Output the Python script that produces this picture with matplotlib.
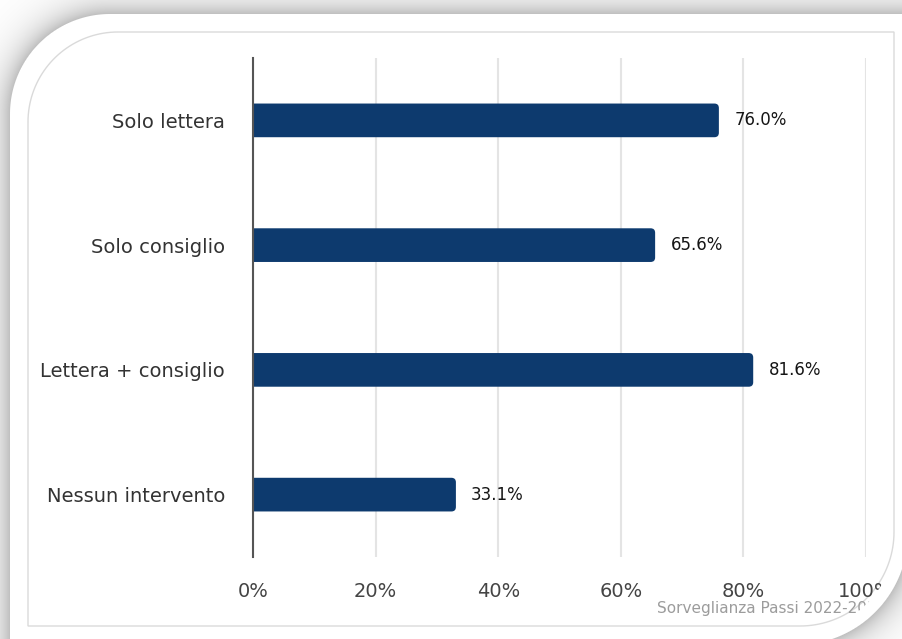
import numpy as np
import matplotlib
matplotlib.use("Agg")
import matplotlib.pyplot as plt
from matplotlib.patches import FancyBboxPatch, PathPatch
from matplotlib.path import Path

# ---- data -------------------------------------------------------------
categories = ["Solo lettera", "Solo consiglio", "Lettera + consiglio", "Nessun intervento"]
values = [76.0, 65.6, 81.6, 33.1]
x_ticks = [0, 20, 40, 60, 80, 100]
x_tick_labels = ["0%", "20%", "40%", "60%", "80%", "100%"]
source_note = "Sorveglianza Passi 2022-2023"

BAR_COLOR = "#0d3a6e"
W, H = 902, 639

plt.rcParams["font.family"] = ["DejaVu Sans"]

fig = plt.figure(figsize=(W / 100, H / 100), dpi=100)

# ---- card background with soft grey shadow ----------------------------
yy, xx = np.mgrid[0:H, 0:W].astype(float) + 0.5
d = np.maximum.reduce([10 - xx, 14 - yy, xx - 908, yy - 645])
tl = (xx < 110) & (yy < 114)
d[tl] = np.hypot(xx[tl] - 110, yy[tl] - 114) - 100
br = (xx > 796) & (yy > 533)
d[br] = np.hypot(xx[br] - 796, yy[br] - 533) - 112
shade = 255 - 64 * np.exp(-np.clip(d, 0, None) / 15)
alpha = np.clip(d + 0.5, 0, 1)
grey = (255 * (1 - alpha) + shade * alpha) / 255.0
img = np.dstack([grey, grey, grey])

bg = fig.add_axes([0, 0, 1, 1], zorder=0)
bg.imshow(img, extent=(0, W, H, 0), interpolation="bilinear", aspect="auto")
bg.set_xlim(0, W)
bg.set_ylim(H, 0)
bg.axis("off")


def rounded_frame(left, top, right, bottom, tl_r, br_r, n=40):
    """Rectangle with rounded top-left and bottom-right corners (pixel coords)."""
    pts = [(left + tl_r, top), (right, top), (right, bottom - br_r)]
    t = np.linspace(0, np.pi / 2, n)
    cx, cy = right - br_r, bottom - br_r
    pts += list(zip(cx + br_r * np.cos(t), cy + br_r * np.sin(t)))
    pts += [(left, bottom), (left, top + tl_r)]
    cx, cy = left + tl_r, top + tl_r
    t = np.linspace(np.pi, 1.5 * np.pi, n)
    pts += list(zip(cx + tl_r * np.cos(t), cy + tl_r * np.sin(t)))
    pts.append((left + tl_r, top))
    return Path(pts, closed=True)


inner = PathPatch(rounded_frame(28, 32, 894, 626, 90, 94), facecolor="none",
                  edgecolor="#dadada", lw=1.0)
bg.add_patch(inner)

bg.text(657, 608, source_note, ha="left", va="center", fontsize=11, color="#9c9c9c")

# ---- bar chart --------------------------------------------------------
ax_l, ax_r, ax_t, ax_b = 253, 866, 58, 557
ax = fig.add_axes([ax_l / W, 1 - ax_b / H, (ax_r - ax_l) / W, (ax_b - ax_t) / H], zorder=1)
ax.patch.set_alpha(0)

ypos = np.arange(len(categories))
bars = ax.barh(ypos, values, height=0.27, color=BAR_COLOR)
ax.set_xlim(0, 100)
ax.set_ylim(len(categories) - 0.5, -0.5)

# rounded bar ends
px_x = 100 / (ax_r - ax_l)
px_y = len(categories) / (ax_b - ax_t)
r = 4.5 * px_x
for b in bars:
    x0, y0, w, h = b.get_x(), b.get_y(), b.get_width(), b.get_height()
    b.remove()
    ax.add_patch(FancyBboxPatch((x0 - r, y0), w + r, h,
                                boxstyle=f"round,pad=0,rounding_size={r}",
                                mutation_aspect=px_y / px_x,
                                facecolor=BAR_COLOR, edgecolor="none", zorder=2))

for yi, v in zip(ypos, values):
    ax.annotate(f"{v:.1f}%", xy=(v, yi), xytext=(11, 0), textcoords="offset points",
                ha="left", va="center", fontsize=12, color="#151515")

ax.set_xticks(x_ticks)
ax.set_xticklabels(x_tick_labels, fontsize=14, color="#444444")
ax.set_yticks(ypos)
ax.set_yticklabels(categories, fontsize=14, color="#333333")
ax.tick_params(axis="x", length=0, pad=18)
ax.tick_params(axis="y", length=0, pad=20)

ax.xaxis.grid(True, color="#e4e4e4", lw=1.5)
ax.set_axisbelow(True)
for s in ["top", "right", "bottom"]:
    ax.spines[s].set_visible(False)
ax.spines["left"].set_color("#555555")
ax.spines["left"].set_linewidth(1.5)
ax.spines["left"].set_zorder(3)

# ---- rounded bottom-right corner of the card drawn over the text ------
ov = fig.add_axes([0, 0, 1, 1], zorder=5)
ov.set_xlim(0, W)
ov.set_ylim(H, 0)
ov.axis("off")
ccx, ccy, cr = 796, 533, 100
t = np.linspace(0, np.pi / 2, 60)
corner_pts = list(zip(ccx + cr * np.cos(t), ccy + cr * np.sin(t)))
corner_pts = [(W + 2, ccy)] + corner_pts + [(ccx, H + 2), (W + 2, H + 2), (W + 2, ccy)]
corner = PathPatch(Path(corner_pts, closed=True), facecolor="none", edgecolor="none",
                   transform=ov.transData)
ov.add_patch(corner)
top_img = ov.imshow(img, extent=(0, W, H, 0), interpolation="bilinear", aspect="auto")
top_img.set_clip_path(corner)
ov.set_xlim(0, W)
ov.set_ylim(H, 0)

fig.savefig("out.png", dpi=100)
